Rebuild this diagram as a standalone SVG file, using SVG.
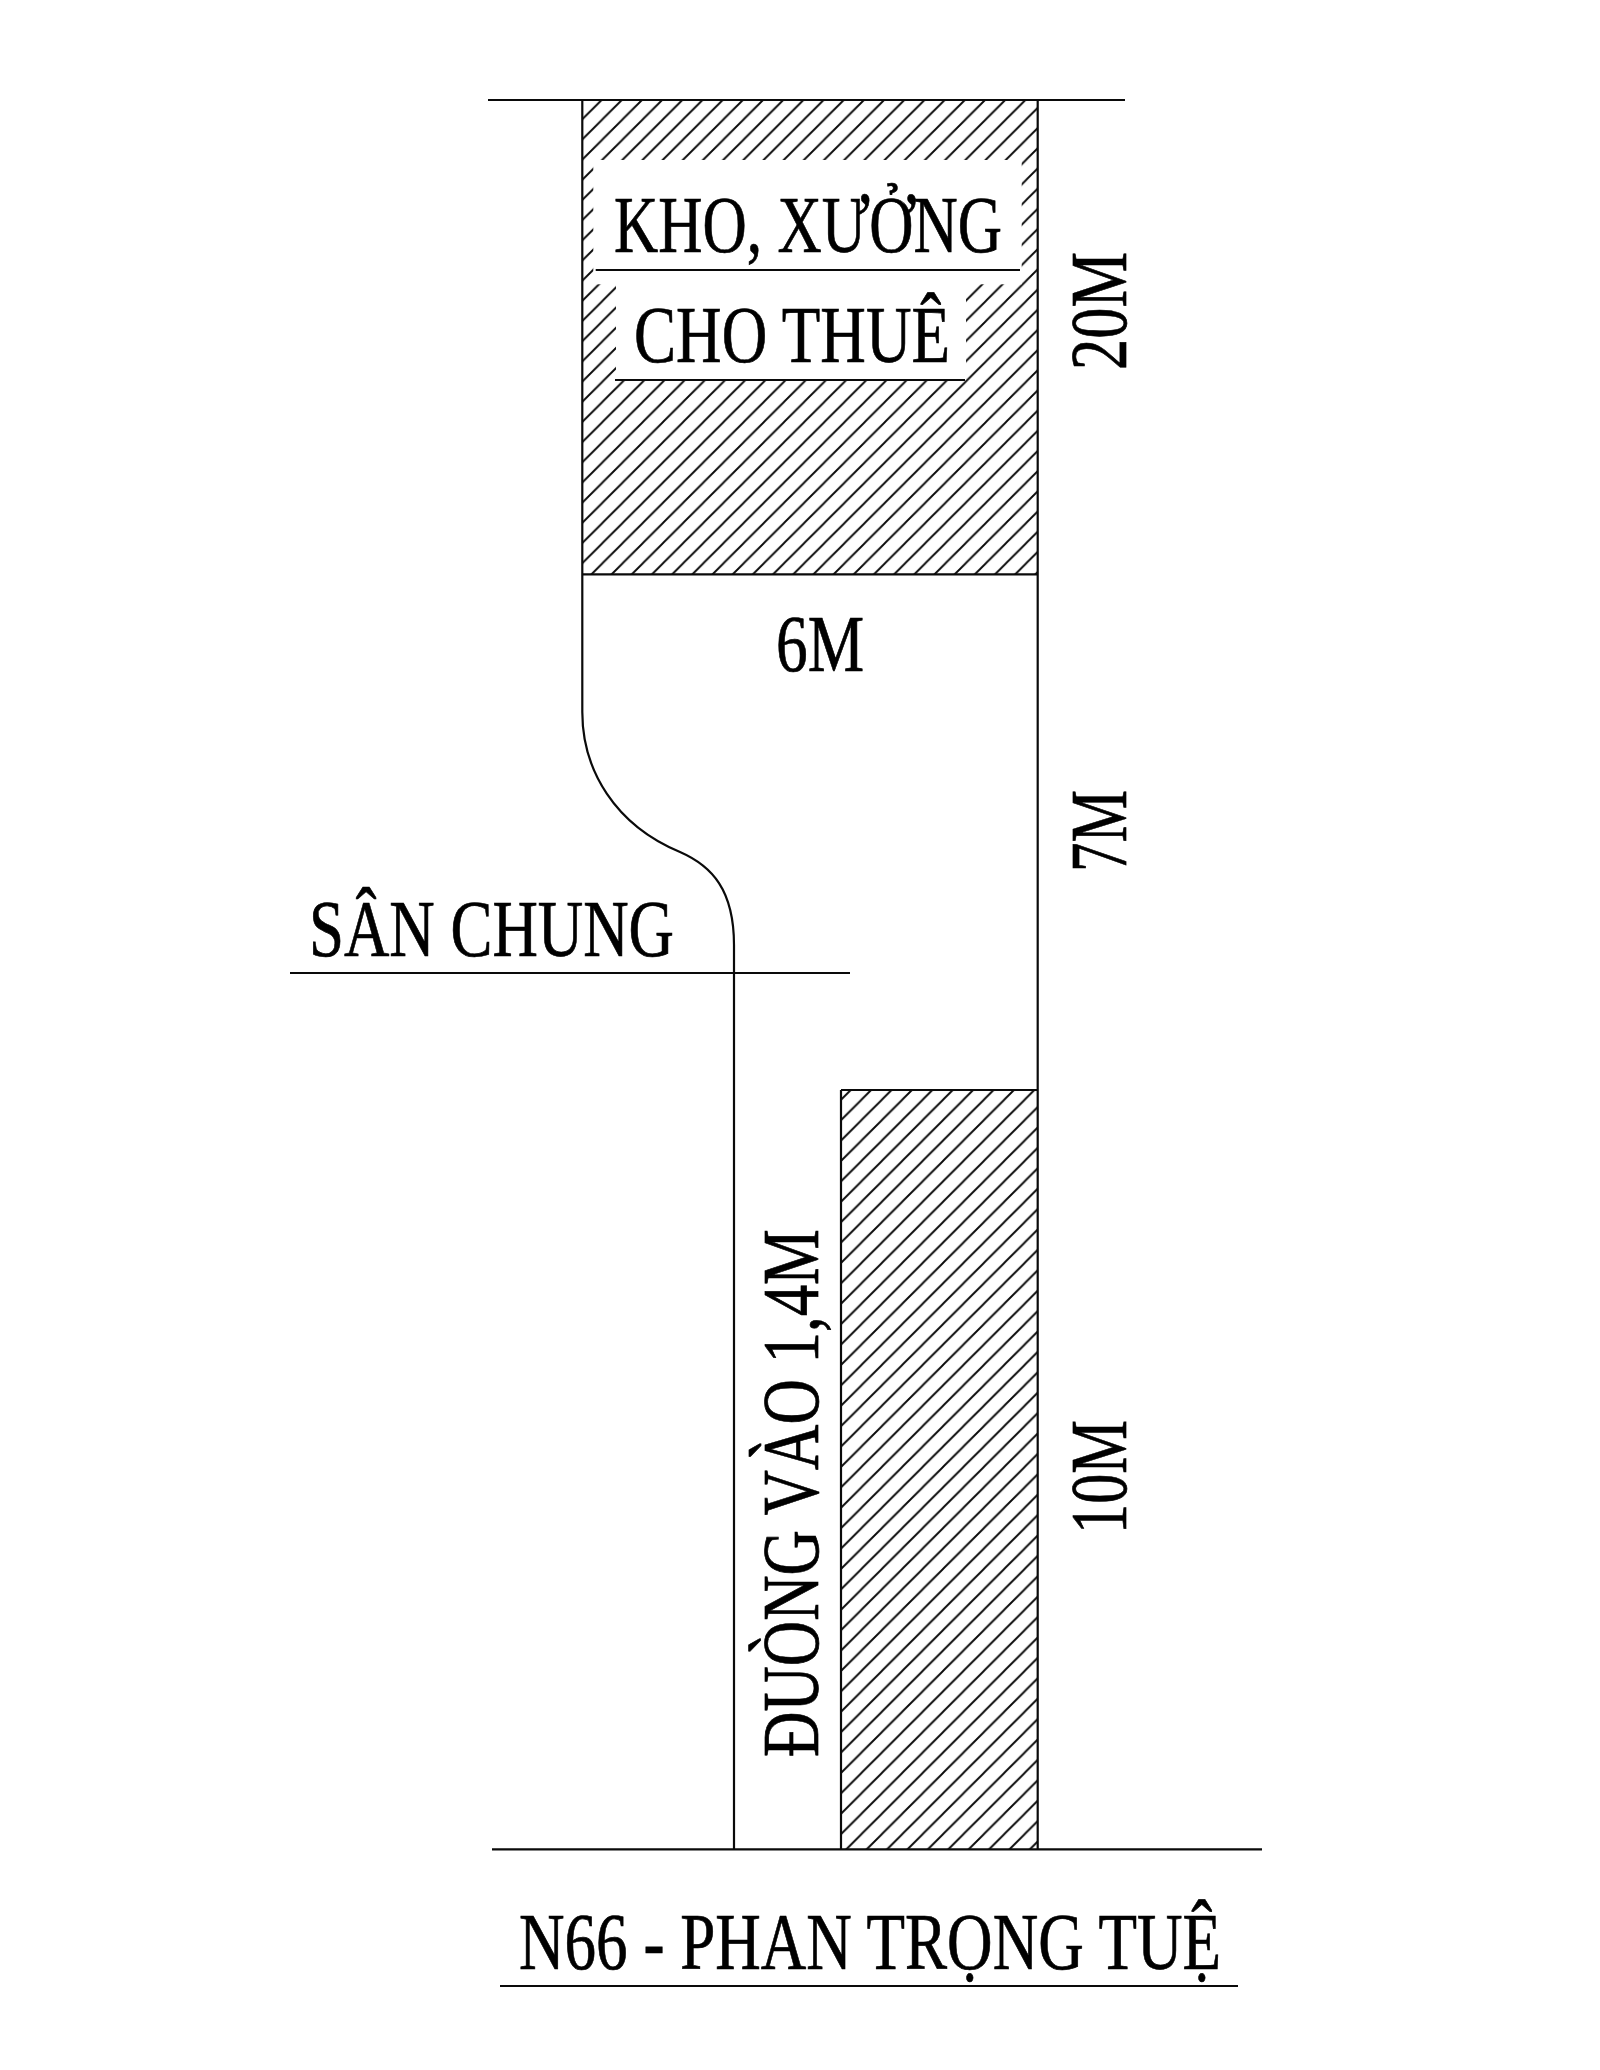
<svg xmlns="http://www.w3.org/2000/svg" width="1600" height="2070" viewBox="0 0 1600 2070">
<style>
.l{stroke:#0a0a0a;stroke-width:2.2;fill:none}
.h{stroke:#0a0a0a;stroke-width:1.9;fill:none}
.t{font-family:"Liberation Serif","Times New Roman",serif;font-size:80px;fill:#000;stroke:#000;stroke-width:.7}
</style>
<defs>
<pattern id="hatch1" patternUnits="userSpaceOnUse" width="20.18" height="20.18" patternTransform="translate(582.3 99.12)">
<path class="h" d="M-2 22.18L22.18 -2M-2 2L2 -2M18.18 22.18L22.18 18.18"/>
</pattern>
<pattern id="hatch2" patternUnits="userSpaceOnUse" width="20.4" height="20.4" patternTransform="translate(841 1752.6)">
<path class="h" d="M-2 22.4L22.4 -2M-2 2L2 -2M18.4 22.4L22.4 18.4"/>
</pattern>
</defs>
<rect width="1600" height="2070" fill="#fff"/>
<g id="hatch-top">
<rect x="582.3" y="100" width="455.4" height="474.3" fill="url(#hatch1)"/>
<rect x="593.3" y="160" width="428.4" height="110" fill="#fff"/>
<rect x="593.3" y="270" width="428.4" height="14.3" fill="#fff"/>
<rect x="616" y="270" width="350" height="110" fill="#fff"/>
</g>
<g id="hatch-bottom">
<rect x="841" y="1090" width="196.7" height="759.3" fill="url(#hatch2)"/>
</g>
<g id="connectors">
<line class="l" x1="488" y1="100" x2="1125" y2="100"/>
<line class="l" x1="582.3" y1="574.3" x2="1037.7" y2="574.3"/>
<path class="l" stroke-width="2" d="M582.3 100V712C582.3 770 615 825 680 852C712 866 734 890 734 945V1849"/>
<line class="l" x1="1037.7" y1="100" x2="1037.7" y2="1849"/>
<line class="l" x1="595.7" y1="270" x2="1020" y2="270"/>
<line class="l" x1="615" y1="380" x2="965" y2="380"/>
<line class="l" x1="290" y1="973" x2="850" y2="973"/>
<line class="l" x1="841" y1="1090" x2="1037.7" y2="1090"/>
<line class="l" x1="841" y1="1090" x2="841" y2="1849"/>
<line class="l" x1="492" y1="1849.3" x2="1262" y2="1849.3"/>
<line class="l" x1="500" y1="1986" x2="1238" y2="1986"/>
</g>
<g id="labels">
<text class="t" x="614" y="252.3" textLength="388" lengthAdjust="spacingAndGlyphs">KHO, XƯỞNG</text>
<text class="t" x="634" y="362.3" textLength="316" lengthAdjust="spacingAndGlyphs">CHO THUÊ</text>
<text class="t" x="776" y="670.5" textLength="88" lengthAdjust="spacingAndGlyphs">6M</text>
<text class="t" x="309" y="955.7" textLength="365" lengthAdjust="spacingAndGlyphs">SÂN CHUNG</text>
<text class="t" x="519" y="1969" textLength="702" lengthAdjust="spacingAndGlyphs">N66 - PHAN TRỌNG TUỆ</text>
<text class="t" transform="translate(1126 370) rotate(-90)" textLength="118" lengthAdjust="spacingAndGlyphs">20M</text>
<text class="t" transform="translate(1126 872) rotate(-90)" textLength="82" lengthAdjust="spacingAndGlyphs">7M</text>
<text class="t" transform="translate(1126 1534) rotate(-90)" textLength="114" lengthAdjust="spacingAndGlyphs">10M</text>
<text class="t" transform="translate(818.3 1757) rotate(-90)" textLength="528" lengthAdjust="spacingAndGlyphs">ĐUÒNG VÀO 1,4M</text>
</g>
</svg>
